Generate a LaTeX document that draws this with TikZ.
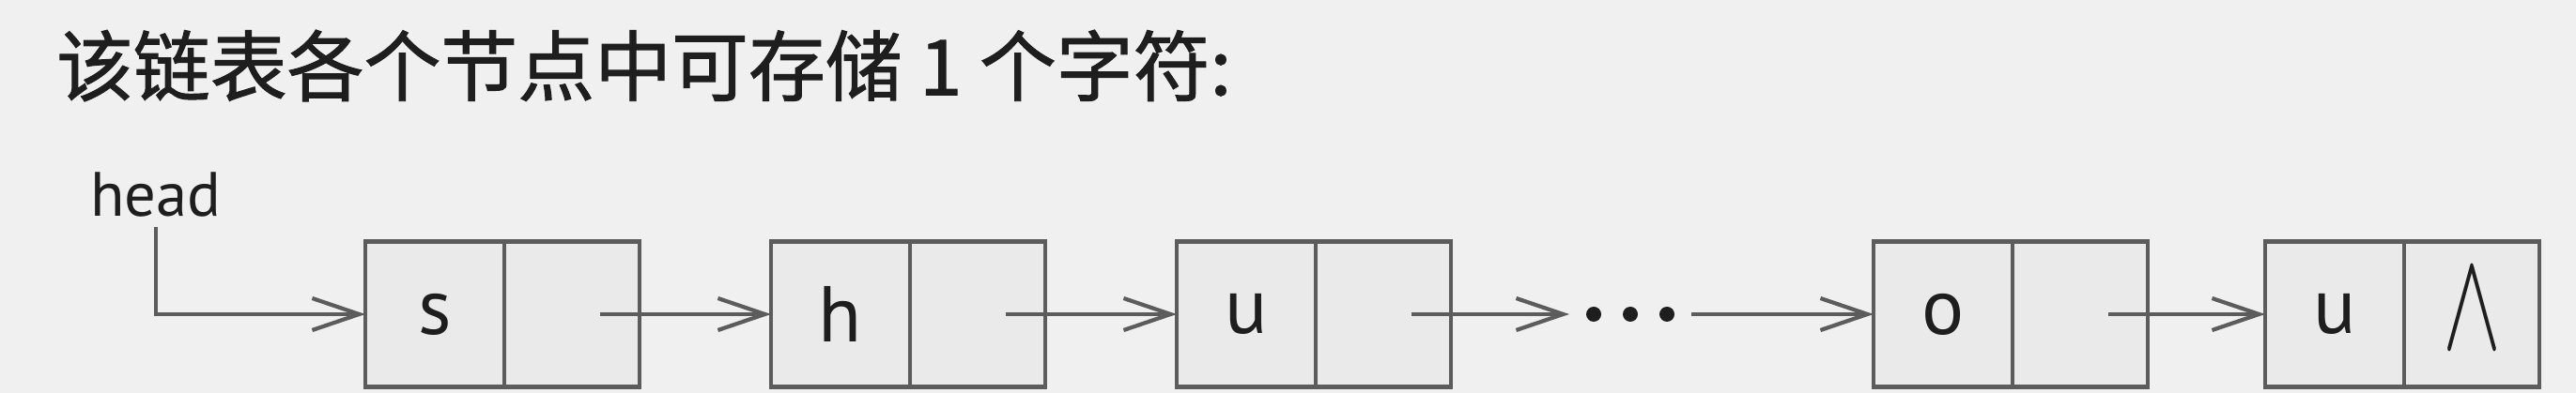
\documentclass[tikz,border=0pt]{standalone}
\usepackage{fontspec}
\usepackage{graphicx}
\setmainfont{PT Sans}
\newfontfamily\cjk[FakeBold=1.2]{Noto Sans CJK SC}
\usetikzlibrary{arrows.meta, positioning}
\definecolor{bg}{RGB}{240,240,240}
\definecolor{cellfill}{RGB}{234,234,234}
\definecolor{edge}{RGB}{92,92,92}
\definecolor{ink}{RGB}{30,30,30}

\begin{document}
\begin{tikzpicture}[>={Straight Barb[length=5mm,width=3.4mm]}, line width=1.2pt, %scale=0.5,
  every node/.style = {text=ink, inner sep=0pt, outer sep=0pt},
  cell/.style = {draw=edge, fill=cellfill, minimum height=1.55cm, font=\fontsize{24pt}{28pt}\selectfont},
  data/.style = {cell, minimum width=1.48cm},
  ptr/.style = {cell, minimum width=1.44cm},
  link/.style = {->, draw=edge, shorten <=3mm}]
  \fill[bg] (0,0) rectangle (27.43,4.19);
  \useasboundingbox (0,0) rectangle (27.43,4.19);
  \node[anchor=west, font=\cjk\fontsize{23.3pt}{28pt}\selectfont] (title) at (0.6,3.49)
    {该链表各个节点中可存储 1 个字符:};
  \node[font=\fontsize{19pt}{22pt}\selectfont, inner sep=1mm] (head) at (1.66,2.11) {head};
  \node[data] (d1) at (4.63,0.84) {s};
  \node[ptr, right=0pt of d1] (p1) {};
  \node[data, right=1.4cm of p1] (d2) {h};
  \node[ptr, right=0pt of d2] (p2) {};
  \node[data, right=1.4cm of p2] (d3) {u};
  \node[ptr, right=0pt of d3] (p3) {};
  \node[minimum width=1.3cm, minimum height=2mm] (dots) at (17.36,0.84) {};
  \node[data, right=4.5cm of p3] (d4) {o};
  \node[ptr, right=0pt of d4] (p4) {};
  \node[data, right=1.25cm of p4] (d5) {u};
  \node[ptr, right=0pt of d5] (p5) {\raisebox{1mm}{\resizebox{0.62cm}{0.84cm}{$\wedge$}}};
  \foreach \dx in {-0.39,0,0.39}
    \fill[ink] ([xshift=\dx cm]dots.center) circle (0.08);
  \draw[->, draw=edge] (head.south) |- (d1.west);
  \draw[link] (p1.center) -- (d2);
  \draw[link] (p2.center) -- (d3);
  \draw[link] (p3.center) -- (dots.west);
  \draw[->, draw=edge] (dots.east) -- (d4.west);
  \draw[link] (p4.center) -- (d5);
\end{tikzpicture}
\end{document}
